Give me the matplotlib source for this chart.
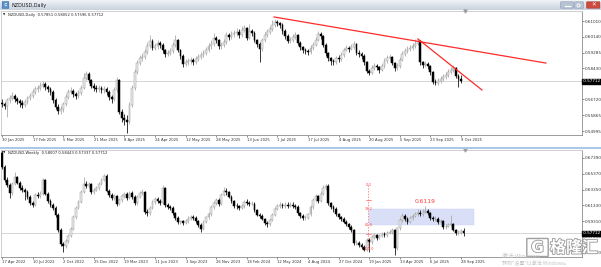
import numpy as np
import matplotlib.pyplot as plt
import matplotlib.patheffects as pe
from matplotlib.patches import Rectangle, FancyBboxPatch
from matplotlib.colors import LinearSegmentedColormap

# ---------------- daily NZDUSD (30 Jan 2025 .. 9 Oct 2025) ----------------
d_first_open = 0.5655
d_close = [0.5647, 0.5636, 0.5669, 0.5680, 0.5691, 0.5674, 0.5664, 0.5653, 0.5642, 0.5658,
           0.5680, 0.5691, 0.5713, 0.5729, 0.5735, 0.5745, 0.5756, 0.5740, 0.5729, 0.5713,
           0.5669, 0.5631, 0.5609, 0.5620, 0.5647, 0.5685, 0.5713, 0.5718, 0.5702, 0.5691,
           0.5707, 0.5735, 0.5789, 0.5811, 0.5778, 0.5745, 0.5735, 0.5729, 0.5735, 0.5724,
           0.5729, 0.5713, 0.5685, 0.5674, 0.5724, 0.5778, 0.5603, 0.5571, 0.5560, 0.5549,
           0.5642, 0.5735, 0.5822, 0.5871, 0.5899, 0.5904, 0.5931, 0.5964, 0.5992, 0.5953,
           0.5964, 0.5981, 0.5970, 0.5942, 0.5921, 0.5926, 0.5937, 0.5970, 0.5997, 0.5942,
           0.5910, 0.5866, 0.5877, 0.5882, 0.5888, 0.5877, 0.5893, 0.5904, 0.5915, 0.5926,
           0.5942, 0.5964, 0.5975, 0.6008, 0.5997, 0.5964, 0.5970, 0.5986, 0.6024, 0.6013,
           0.6030, 0.6035, 0.6041, 0.6024, 0.6052, 0.6063, 0.6008, 0.6046, 0.6035, 0.5997,
           0.5975, 0.5948, 0.5997, 0.6024, 0.6041, 0.6057, 0.6079, 0.6096, 0.6090, 0.6079,
           0.6046, 0.6019, 0.5992, 0.5997, 0.6013, 0.6024, 0.5981, 0.5959, 0.5942, 0.5937,
           0.5931, 0.5953, 0.5970, 0.5997, 0.6030, 0.6019, 0.5970, 0.5926, 0.5899, 0.5882,
           0.5877, 0.5899, 0.5893, 0.5915, 0.5942, 0.5953, 0.5948, 0.5959, 0.5975, 0.5926,
           0.5921, 0.5910, 0.5877, 0.5828, 0.5817, 0.5844, 0.5855, 0.5849, 0.5833, 0.5855,
           0.5882, 0.5899, 0.5904, 0.5871, 0.5844, 0.5855, 0.5888, 0.5921, 0.5937, 0.5948,
           0.5953, 0.5964, 0.5975, 0.5992, 0.5877, 0.5860, 0.5866, 0.5855, 0.5822, 0.5767,
           0.5762, 0.5773, 0.5784, 0.5795, 0.5806, 0.5822, 0.5833, 0.5844, 0.5800, 0.57851,
           0.57712]
d_high = [0.5672, 0.5658, 0.5680, 0.5695, 0.5712, 0.5700, 0.5685, 0.5672, 0.5668, 0.5677,
          0.5692, 0.5705, 0.5730, 0.5745, 0.5752, 0.5770, 0.5775, 0.5765, 0.5752, 0.5738,
          0.5722, 0.5680, 0.5645, 0.5638, 0.5660, 0.5700, 0.5728, 0.5738, 0.5730, 0.5715,
          0.5722, 0.5750, 0.5815, 0.5830, 0.5820, 0.5785, 0.5760, 0.5750, 0.5752, 0.5748,
          0.5745, 0.5740, 0.5722, 0.5698, 0.5738, 0.5795, 0.5785, 0.5620, 0.5590, 0.5585,
          0.5660, 0.5750, 0.5840, 0.5890, 0.5915, 0.5925, 0.5948, 0.5985, 0.6024, 0.6000,
          0.5980, 0.5998, 0.5992, 0.5978, 0.5950, 0.5945, 0.5955, 0.5985, 0.6024, 0.6005,
          0.5950, 0.5918, 0.5895, 0.5900, 0.5905, 0.5898, 0.5910, 0.5920, 0.5932, 0.5945,
          0.5960, 0.5980, 0.5995, 0.6035, 0.6020, 0.6005, 0.5988, 0.6003, 0.6040, 0.6038,
          0.6045, 0.6052, 0.6060, 0.6055, 0.6074, 0.6079, 0.6068, 0.6085, 0.6058, 0.6045,
          0.6005, 0.5985, 0.6010, 0.6040, 0.6055, 0.6074, 0.6106, 0.6110, 0.6105, 0.6096,
          0.6088, 0.6055, 0.6028, 0.6012, 0.6030, 0.6040, 0.6030, 0.5990, 0.5965, 0.5955,
          0.5950, 0.5968, 0.5985, 0.6012, 0.6046, 0.6040, 0.6025, 0.5978, 0.5932, 0.5905,
          0.5895, 0.5912, 0.5915, 0.5930, 0.5955, 0.5968, 0.5965, 0.5975, 0.5990, 0.5982,
          0.5940, 0.5930, 0.5918, 0.5885, 0.5838, 0.5858, 0.5870, 0.5868, 0.5855, 0.5870,
          0.5898, 0.5915, 0.5920, 0.5910, 0.5878, 0.5870, 0.5902, 0.5935, 0.5952, 0.5962,
          0.5970, 0.5980, 0.6005, 0.6005, 0.5998, 0.5885, 0.5880, 0.5878, 0.5862, 0.5830,
          0.5782, 0.5790, 0.5800, 0.5812, 0.5822, 0.5838, 0.5850, 0.5860, 0.5850, 0.5810,
          0.58052]
d_low = [0.5630, 0.5622, 0.5576, 0.5655, 0.5668, 0.5660, 0.5645, 0.5633, 0.5625, 0.5630,
         0.5645, 0.5668, 0.5682, 0.5700, 0.5715, 0.5722, 0.5735, 0.5725, 0.5712, 0.5695,
         0.5655, 0.5618, 0.5590, 0.5595, 0.5605, 0.5638, 0.5672, 0.5700, 0.5688, 0.5675,
         0.5680, 0.5695, 0.5728, 0.5778, 0.5760, 0.5732, 0.5718, 0.5712, 0.5715, 0.5708,
         0.5710, 0.5698, 0.5670, 0.5655, 0.5665, 0.5715, 0.5590, 0.5550, 0.5530, 0.5488,
         0.5540, 0.5630, 0.5725, 0.5810, 0.5860, 0.5885, 0.5892, 0.5920, 0.5955, 0.5940,
         0.5940, 0.5950, 0.5955, 0.5928, 0.5905, 0.5908, 0.5915, 0.5925, 0.5960, 0.5930,
         0.5895, 0.5849, 0.5855, 0.5862, 0.5868, 0.5860, 0.5865, 0.5880, 0.5892, 0.5905,
         0.5915, 0.5930, 0.5950, 0.5965, 0.5980, 0.5950, 0.5948, 0.5958, 0.5975, 0.5995,
         0.6000, 0.6015, 0.6020, 0.6010, 0.6015, 0.6040, 0.5995, 0.6000, 0.6018, 0.5985,
         0.5960, 0.5877, 0.5935, 0.5985, 0.6015, 0.6030, 0.6048, 0.6070, 0.6072, 0.6060,
         0.6030, 0.6005, 0.5978, 0.5980, 0.5985, 0.6005, 0.5968, 0.5942, 0.5925, 0.5920,
         0.5915, 0.5922, 0.5945, 0.5962, 0.5990, 0.6005, 0.5958, 0.5910, 0.5882, 0.5860,
         0.5860, 0.5868, 0.5875, 0.5885, 0.5905, 0.5935, 0.5930, 0.5940, 0.5950, 0.5915,
         0.5905, 0.5895, 0.5862, 0.5815, 0.5806, 0.5810, 0.5835, 0.5832, 0.5818, 0.5825,
         0.5845, 0.5872, 0.5885, 0.5860, 0.5830, 0.5835, 0.5845, 0.5880, 0.5912, 0.5928,
         0.5935, 0.5942, 0.5955, 0.5968, 0.5862, 0.5845, 0.5848, 0.5838, 0.5808, 0.5755,
         0.5750, 0.5752, 0.5760, 0.5772, 0.5785, 0.5795, 0.5812, 0.5820, 0.5788, 0.5740,
         0.57596]
d_ticks = [0.61010, 0.60140, 0.59285, 0.58430, 0.57575, 0.56720, 0.55865, 0.54995]
d_dates = ['30 Jan 2025', '17 Feb 2025', '5 Mar 2025', '21 Mar 2025', '8 Apr 2025',
           '24 Apr 2025', '12 May 2025', '28 May 2025', '13 Jun 2025', '1 Jul 2025',
           '17 Jul 2025', '4 Aug 2025', '20 Aug 2025', '5 Sep 2025', '23 Sep 2025', '9 Oct 2025']
# trendlines drawn on the daily chart: (bar, price) anchors
trend_a_bar, trend_a_px = [106.7, 213.3], [0.6123, 0.5871]
trend_b_bar, trend_b_px = [163.1, 188.2], [0.6003, 0.5724]

# ---------------- weekly NZDUSD (17 Apr 2022 .. 5 Oct 2025) ----------------
w_first_open = 0.6800
w_close = [0.6624, 0.6457, 0.6393, 0.6290, 0.6405, 0.6495, 0.6418, 0.6354, 0.6329, 0.6303,
           0.6239, 0.6162, 0.6136, 0.6264, 0.6252, 0.6277, 0.6457, 0.6277, 0.6188, 0.6136,
           0.6098, 0.6008, 0.5816, 0.5636, 0.5611, 0.5675, 0.5739, 0.5828, 0.5982, 0.6098,
           0.6175, 0.6303, 0.6405, 0.6380, 0.6405, 0.6303, 0.6329, 0.6354, 0.6405, 0.6457,
           0.6508, 0.6316, 0.6264, 0.6226, 0.6252, 0.6149, 0.6200, 0.6252, 0.6277, 0.6226,
           0.6290, 0.6239, 0.6162, 0.6239, 0.6290, 0.6303, 0.6046, 0.6034, 0.6098, 0.6175,
           0.6213, 0.6188, 0.6162, 0.6354, 0.6136, 0.6111, 0.6098, 0.6034, 0.5970, 0.5918,
           0.5925, 0.5905, 0.5931, 0.5957, 0.5982, 0.5975, 0.5931, 0.5880, 0.5828, 0.5918,
           0.5982, 0.6021, 0.6111, 0.6162, 0.6200, 0.6149, 0.6264, 0.6316, 0.6303, 0.6239,
           0.6188, 0.6123, 0.6118, 0.6098, 0.6123, 0.6175, 0.6162, 0.6149, 0.6155, 0.6072,
           0.6008, 0.5995, 0.5957, 0.5905, 0.5893, 0.5944, 0.6008, 0.6085, 0.6123, 0.6136,
           0.6123, 0.6136, 0.6128, 0.6140, 0.6123, 0.6111, 0.6034, 0.5995, 0.5970, 0.5975,
           0.6021, 0.6111, 0.6200, 0.6252, 0.6188, 0.6277, 0.6354, 0.6380, 0.6162, 0.6111,
           0.6085, 0.6021, 0.5982, 0.5957, 0.5918, 0.5893, 0.5854, 0.5816, 0.5649, 0.5655,
           0.5623, 0.5598, 0.5559, 0.5687, 0.5662, 0.5726, 0.5752, 0.5713, 0.5739, 0.5764,
           0.5752, 0.5777, 0.5790, 0.5816, 0.5585, 0.5841, 0.5944, 0.5995, 0.5957, 0.5918,
           0.5970, 0.5995, 0.6021, 0.6034, 0.6021, 0.6046, 0.6059, 0.6034, 0.5970, 0.5957,
           0.5962, 0.5918, 0.5931, 0.5854, 0.5860, 0.5880, 0.5893, 0.5816, 0.5777, 0.5783,
           0.58007, 0.57712]
w_high = [0.6840, 0.6650, 0.6490, 0.6420, 0.6430, 0.6559, 0.6510, 0.6440, 0.6390, 0.6350,
          0.6330, 0.6260, 0.6190, 0.6290, 0.6300, 0.6310, 0.6482, 0.6470, 0.6300, 0.6210,
          0.6160, 0.6120, 0.6030, 0.5840, 0.5660, 0.5700, 0.5770, 0.5860, 0.6010, 0.6120,
          0.6200, 0.6330, 0.6495, 0.6440, 0.6430, 0.6420, 0.6360, 0.6380, 0.6430, 0.6480,
          0.6534, 0.6530, 0.6340, 0.6290, 0.6280, 0.6270, 0.6230, 0.6280, 0.6300, 0.6300,
          0.6320, 0.6310, 0.6260, 0.6265, 0.6320, 0.6340, 0.6320, 0.6080, 0.6120, 0.6200,
          0.6240, 0.6240, 0.6210, 0.6393, 0.6370, 0.6160, 0.6140, 0.6120, 0.6050, 0.5990,
          0.5950, 0.5940, 0.5960, 0.5990, 0.6010, 0.6010, 0.5990, 0.5950, 0.5900, 0.5940,
          0.6000, 0.6050, 0.6140, 0.6190, 0.6230, 0.6220, 0.6290, 0.6367, 0.6350, 0.6320,
          0.6260, 0.6200, 0.6160, 0.6140, 0.6150, 0.6200, 0.6210, 0.6190, 0.6190, 0.6170,
          0.6090, 0.6040, 0.6020, 0.5970, 0.5930, 0.5970, 0.6030, 0.6110, 0.6150, 0.6170,
          0.6160, 0.6170, 0.6170, 0.6180, 0.6170, 0.6150, 0.6130, 0.6050, 0.6020, 0.6010,
          0.6040, 0.6140, 0.6230, 0.6280, 0.6270, 0.6310, 0.6393, 0.6405, 0.6400, 0.6180,
          0.6130, 0.6110, 0.6040, 0.6000, 0.5980, 0.5940, 0.5910, 0.5880, 0.5830, 0.5690,
          0.5680, 0.5650, 0.5620, 0.5710, 0.5710, 0.5750, 0.5780, 0.5770, 0.5765, 0.5790,
          0.5790, 0.5800, 0.5820, 0.5840, 0.5830, 0.5860, 0.5970, 0.6030, 0.6020, 0.5980,
          0.6000, 0.6020, 0.6050, 0.6085, 0.6070, 0.6080, 0.6119, 0.6090, 0.6050, 0.6000,
          0.5990, 0.5980, 0.5960, 0.5950, 0.5890, 0.5910, 0.6008, 0.5910, 0.5830, 0.5820,
          0.5830, 0.58443]
w_low = [0.6600, 0.6430, 0.6370, 0.6226, 0.6270, 0.6390, 0.6400, 0.6330, 0.6300, 0.6200,
         0.6210, 0.6140, 0.6110, 0.6120, 0.6230, 0.6230, 0.6260, 0.6260, 0.6160, 0.6110,
         0.6070, 0.5980, 0.5790, 0.5610, 0.5534, 0.5590, 0.5650, 0.5720, 0.5810, 0.5960,
         0.6080, 0.6160, 0.6290, 0.6350, 0.6350, 0.6280, 0.6280, 0.6310, 0.6330, 0.6390,
         0.6440, 0.6300, 0.6240, 0.6200, 0.6200, 0.6120, 0.6130, 0.6180, 0.6230, 0.6200,
         0.6210, 0.6210, 0.6140, 0.6140, 0.6220, 0.6270, 0.6020, 0.6000, 0.6010, 0.6080,
         0.6150, 0.6160, 0.6140, 0.6150, 0.6110, 0.6080, 0.6070, 0.6010, 0.5950, 0.5890,
         0.5895, 0.5880, 0.5890, 0.5910, 0.5940, 0.5950, 0.5910, 0.5860, 0.5790, 0.5810,
         0.5900, 0.5960, 0.6000, 0.6090, 0.6140, 0.6120, 0.6130, 0.6250, 0.6270, 0.6220,
         0.6160, 0.6100, 0.6090, 0.6070, 0.6080, 0.6100, 0.6140, 0.6120, 0.6130, 0.6050,
         0.5990, 0.5970, 0.5940, 0.5880, 0.5850, 0.5870, 0.5930, 0.5990, 0.6070, 0.6100,
         0.6100, 0.6100, 0.6100, 0.6110, 0.6100, 0.6080, 0.6010, 0.5970, 0.5940, 0.5945,
         0.5960, 0.6000, 0.6090, 0.6180, 0.6160, 0.6170, 0.6260, 0.6330, 0.6140, 0.6080,
         0.6050, 0.6000, 0.5960, 0.5930, 0.5900, 0.5870, 0.5830, 0.5790, 0.5620, 0.5620,
         0.5600, 0.5570, 0.5540, 0.5540, 0.5534, 0.5640, 0.5700, 0.5690, 0.5700, 0.5720,
         0.5730, 0.5730, 0.5760, 0.5770, 0.5495, 0.5560, 0.5820, 0.5920, 0.5930, 0.5890,
         0.5900, 0.5950, 0.5980, 0.6000, 0.5995, 0.6000, 0.6030, 0.6010, 0.5950, 0.5930,
         0.5930, 0.5890, 0.5900, 0.5830, 0.5830, 0.5850, 0.5860, 0.5800, 0.5750, 0.5750,
         0.5760, 0.57337]
w_ticks = [0.67390, 0.65370, 0.63350, 0.61330, 0.59310, 0.57290, 0.55270]
w_dates = ['17 Apr 2022', '10 Jul 2022', '2 Oct 2022', '25 Dec 2022', '19 Mar 2023',
           '11 Jun 2023', '3 Sep 2023', '26 Nov 2023', '18 Feb 2024', '12 May 2024',
           '4 Aug 2024', '27 Oct 2024', '19 Jan 2025', '13 Apr 2025', '6 Jul 2025', '28 Sep 2025']
# Fibonacci tool on the weekly chart
fib_bar = 143.5
fib_top, fib_bottom = 0.6393, 0.5572
fib_levels = [0.0, 23.6, 38.2, 61.8, 76.4, 100.0]
zone_bars = [143.9, 185.1]

last_price = 0.57712

# ---------------- layout helpers (pixel boxes on a 601x267 canvas) ----------------
W, H = 601, 267
fig = plt.figure(figsize=(W / 100, H / 100), dpi=100)
fig.patch.set_facecolor('white')


def box(x0, y0, x1, y1):
    return [x0 / W, 1 - y1 / H, (x1 - x0) / W, (y1 - y0) / H]


def candles(ax, first_open, close, high, low):
    c = np.asarray(close)
    o = np.concatenate([[first_open], c[:-1]])  # FX bars open at the prior close
    h = np.asarray(high)
    l = np.asarray(low)
    x = np.arange(len(c))
    up = c >= o
    dn = ~up
    ax.vlines(x[up], l[up], h[up], color='#a4a4a4', lw=0.55, zorder=2)
    ax.vlines(x[dn], l[dn], h[dn], color='black', lw=0.55, zorder=2)
    ax.bar(x[up], np.maximum(c[up] - o[up], 0.00005), bottom=o[up], width=0.72,
           color='#ececec', edgecolor='#9a9a9a', linewidth=0.35, zorder=3)
    ax.bar(x[dn], o[dn] - c[dn], bottom=c[dn], width=0.72,
           color='black', edgecolor='black', linewidth=0.35, zorder=3)


def style(ax, yticks, dates, ylim):
    ax.set_xlim(-1 / 2.55, 580 / 2.55)
    ax.set_ylim(*ylim)
    ax.yaxis.tick_right()
    ax.set_yticks(yticks)
    ax.set_yticklabels([f'{v:.5f}' for v in yticks])
    ax.set_xticks(np.arange(len(dates)) * 12)
    ax.set_xticklabels(dates, ha='left')
    ax.tick_params(axis='y', labelsize=3.0, colors='#333333', length=1.5, width=0.4, pad=0.6)
    ax.tick_params(axis='x', labelsize=2.7, colors='#333333', length=1.6, width=0.4, pad=0.8)
    for s in ax.spines.values():
        s.set_color('#8c8c8c')
        s.set_linewidth(0.6)
    ax.spines['top'].set_color('#c8c8c8')
    ax.spines['left'].set_color('#c8c8c8')
    ax.axhline(last_price, color='#cfcfcf', lw=0.6, zorder=1)
    ax.text(1.0, last_price, ' 0.57712 ', transform=ax.get_yaxis_transform(),
            fontsize=3.0, color='white', va='center', ha='left', zorder=10, clip_on=False,
            bbox=dict(boxstyle='square,pad=0.12', fc='black', ec='black'))
    # chart-shift marker at the top edge
    ax.plot([len(d_close) + 0.5], [ylim[1]], marker='v', ms=2.2, color='#a0a0a0',
            clip_on=False, zorder=10)


# ---------------- title bar ----------------
tb = fig.add_axes(box(0, 0, W, 10))
grad = np.linspace(0, 1, 20).reshape(-1, 1)
tb.imshow(grad, aspect='auto', extent=[0, W, 10, 0],
          cmap=LinearSegmentedColormap.from_list('tb', ['#f1f4f8', '#c8d2de']))
tb.set_xlim(0, W)
tb.set_ylim(10, 0)
tb.axis('off')
tb.add_patch(FancyBboxPatch((2.5, 2), 6, 6, boxstyle='round,pad=0.3', fc='#5a8fc8', ec='#35669c', lw=0.4))
tb.text(5.5, 5.2, 'ㄷ', fontsize=3, color='white', ha='center', va='center',
        family=['Noto Sans CJK KR', 'DejaVu Sans'])
tb.text(12, 5.3, 'NZDUSD,Daily', fontsize=3.5, color='#1c1c1c', va='center')
tb.add_patch(FancyBboxPatch((561, 2.2), 12, 5.6, boxstyle='round,pad=0.4', fc='#b7c3d3', ec='#8b9bb0', lw=0.4))
tb.add_patch(FancyBboxPatch((575, 2.2), 8, 5.6, boxstyle='round,pad=0.4', fc='#b7c3d3', ec='#8b9bb0', lw=0.4))
tb.add_patch(FancyBboxPatch((587, 2.2), 12.5, 5.6, boxstyle='round,pad=0.4', fc='#cf4a3e', ec='#a0352b', lw=0.4))
tb.plot([564.5, 569.5], [6, 6], color='white', lw=0.9)
tb.plot([577.5], [5], marker='o', ms=2.2, mfc='none', mec='white', mew=0.6)
tb.text(593.3, 5, '✕', fontsize=4, color='white', ha='center', va='center', fontweight='bold')

# ---------------- daily panel ----------------
ax1 = fig.add_axes(box(1, 11, 582, 135))
candles(ax1, d_first_open, d_close, d_high, d_low)
style(ax1, d_ticks, d_dates, (0.547765, 0.615568))
ax1.plot(trend_a_bar, trend_a_px, color='#ff2a2a', lw=0.9, zorder=6)
ax1.plot(trend_b_bar, trend_b_px, color='#ff2a2a', lw=0.9, zorder=6)
fig.text(3 / W, 1 - 15 / H, '▼', fontsize=2.2, color='#222222', va='center')
fig.text(8 / W, 1 - 15 / H, 'NZDUSD,Daily  0.57851 0.58052 0.57596 0.57712',
         fontsize=2.7, color='#222222', va='center')

# window separator
fig.patches.append(Rectangle((0, 1 - 149 / H), 1, 2.2 / H, transform=fig.transFigure,
                             fc='#a9c9e8', ec='none'))

# ---------------- weekly panel ----------------
ax2 = fig.add_axes(box(1, 150, 582, 257))
candles(ax2, w_first_open, w_close, w_high, w_low)
style(ax2, w_ticks, w_dates, (0.546932, 0.684160))

fib_px = [fib_top - lv / 100 * (fib_top - fib_bottom) for lv in fib_levels]
ax2.add_patch(Rectangle((zone_bars[0], fib_px[3]), zone_bars[1] - zone_bars[0],
                        fib_px[2] - fib_px[3], fc='#dadff8', ec='#c8cef2', lw=0.3, zorder=1))
ax2.plot([fib_bar, fib_bar], [fib_top, fib_bottom], color='#ff6060', lw=0.5,
         ls=(0, (2, 2)), zorder=5)
for lv, p in zip(fib_levels, fib_px):
    if lv in (23.6, 76.4):
        ax2.plot([fib_bar - 0.9, fib_bar + 1.4], [p, p], color='#ff6060', lw=0.5, zorder=5)
    else:
        ax2.text(fib_bar + 0.2, p, f'{lv:.1f}', fontsize=2.6, color='#ff4a4a',
                 ha='center', va='center', zorder=6)
peak = 155 + int(np.argmax(w_high[155:]))
ax2.annotate(f'{w_high[peak]:.4f}', (peak, w_high[peak]), xytext=(0, 1.8),
             textcoords='offset points', ha='center', va='bottom',
             fontsize=4.3, color='#ff3b3b', zorder=7)
fig.text(3 / W, 1 - 153 / H, '▼', fontsize=2.2, color='#222222', va='center')
fig.text(8 / W, 1 - 153 / H, 'NZDUSD,Weekly  0.58007 0.58443 0.57337 0.57712',
         fontsize=2.7, color='#222222', va='center')

# ---------------- watermark ----------------
cjk = ['Noto Sans CJK SC', 'DejaVu Sans']
fig.text(502 / W, 1 - 256 / H, '激活 Windows', fontsize=4.2, color='#c4c4c4',
         va='center', family=cjk)
fig.text(502 / W, 1 - 263.5 / H, '转到"设置"以激活 Windows。', fontsize=3.6, color='#c4c4c4',
         va='center', family=cjk)
stroke = [pe.withStroke(linewidth=1.3, foreground='#9c9c9c')]
fig.patches.append(FancyBboxPatch((528 / W, 1 - 256 / H), 19 / W, 17 / H,
                                  boxstyle='round,pad=0.002', transform=fig.transFigure,
                                  fc='white', ec='#a0a0a0', lw=1.0))
fig.text(537.5 / W, 1 - 247.5 / H, 'G', fontsize=11, color='white', ha='center',
         va='center', fontweight='bold', path_effects=stroke)
fig.text(574 / W, 1 - 247.5 / H, '格隆汇', fontsize=11.5, color='white', ha='center',
         va='center', fontweight='bold', family=cjk, path_effects=stroke)

fig.savefig('out.png', dpi=100)
